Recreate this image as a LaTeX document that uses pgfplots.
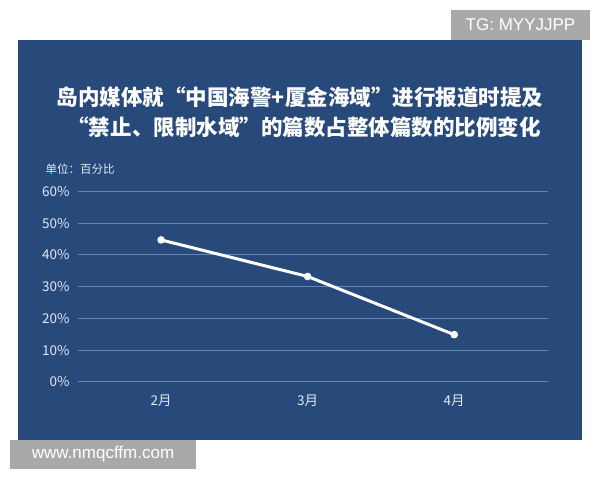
\documentclass[border=0pt]{standalone}
\usepackage{pgfplots}
\pgfplotsset{compat=1.18}
\usepackage{fontspec}
\setmainfont{Noto Sans CJK SC}
\newfontfamily\latin{Liberation Sans}
\definecolor{navy}{HTML}{274A7B}
\definecolor{gridc}{HTML}{6584B4}
\definecolor{lab}{HTML}{E2E8F1}
\definecolor{wm}{HTML}{A9A9A9}
\begin{document}
\begin{tikzpicture}[x=1bp,y=1bp]
\fill[white] (0,0) rectangle (600,480);
\fill[navy] (18,40) rectangle (582,440);
\fill[wm] (451,440) rectangle (590,470);
\node[white,anchor=center,font=\latin\fontsize{17bp}{20bp}\selectfont] at (520.5,455) {TG: MYYJJPP};
\fill[wm] (10,11) rectangle (196,40);
\node[white,anchor=center,font=\latin\fontsize{17bp}{20bp}\selectfont] at (103,25.5) {www.nmqcffm.com};
\node[white,font=\bfseries\fontsize{21.5bp}{26bp}\selectfont] at (300,383) {岛内媒体就“中国海警+厦金海域”进行报道时提及};
\node[white,font=\bfseries\fontsize{21.5bp}{26bp}\selectfont] at (304,353) {“禁止、限制水域”的篇数占整体篇数的比例变化};
\node[lab,anchor=west,font=\fontsize{11.5bp}{14bp}\selectfont] at (42,311) {单位：百分比};
\begin{axis}[
  at={(78bp,98bp)}, anchor=south west,
  scale only axis, width=470bp, height=190.7bp,
  xmin=-0.567, xmax=2.64, ymin=0, ymax=60,
  xtick={0,1,2}, xticklabels={2月,3月,4月},
  ytick={0,10,20,30,40,50,60},
  yticklabel={\pgfmathprintnumber{\tick}\%},
  /pgf/number format/assume math mode=true,
  axis line style={draw=none},
  major tick length=0pt,
  ymajorgrids, grid style={gridc, line width=1bp},
  xticklabel style={lab, font=\fontsize{13.5bp}{16bp}\selectfont, anchor=center, yshift=-19bp},
  yticklabel style={lab, font=\fontsize{13.5bp}{16bp}\selectfont, anchor=east, xshift=-5bp},
  clip=false,
]
\addplot[white, line width=3bp, mark=*, mark size=2.2bp, mark options={fill=white}] coordinates {(0,44.7) (1,33.2) (2,14.9)};
\end{axis}
\end{tikzpicture}
\end{document}
